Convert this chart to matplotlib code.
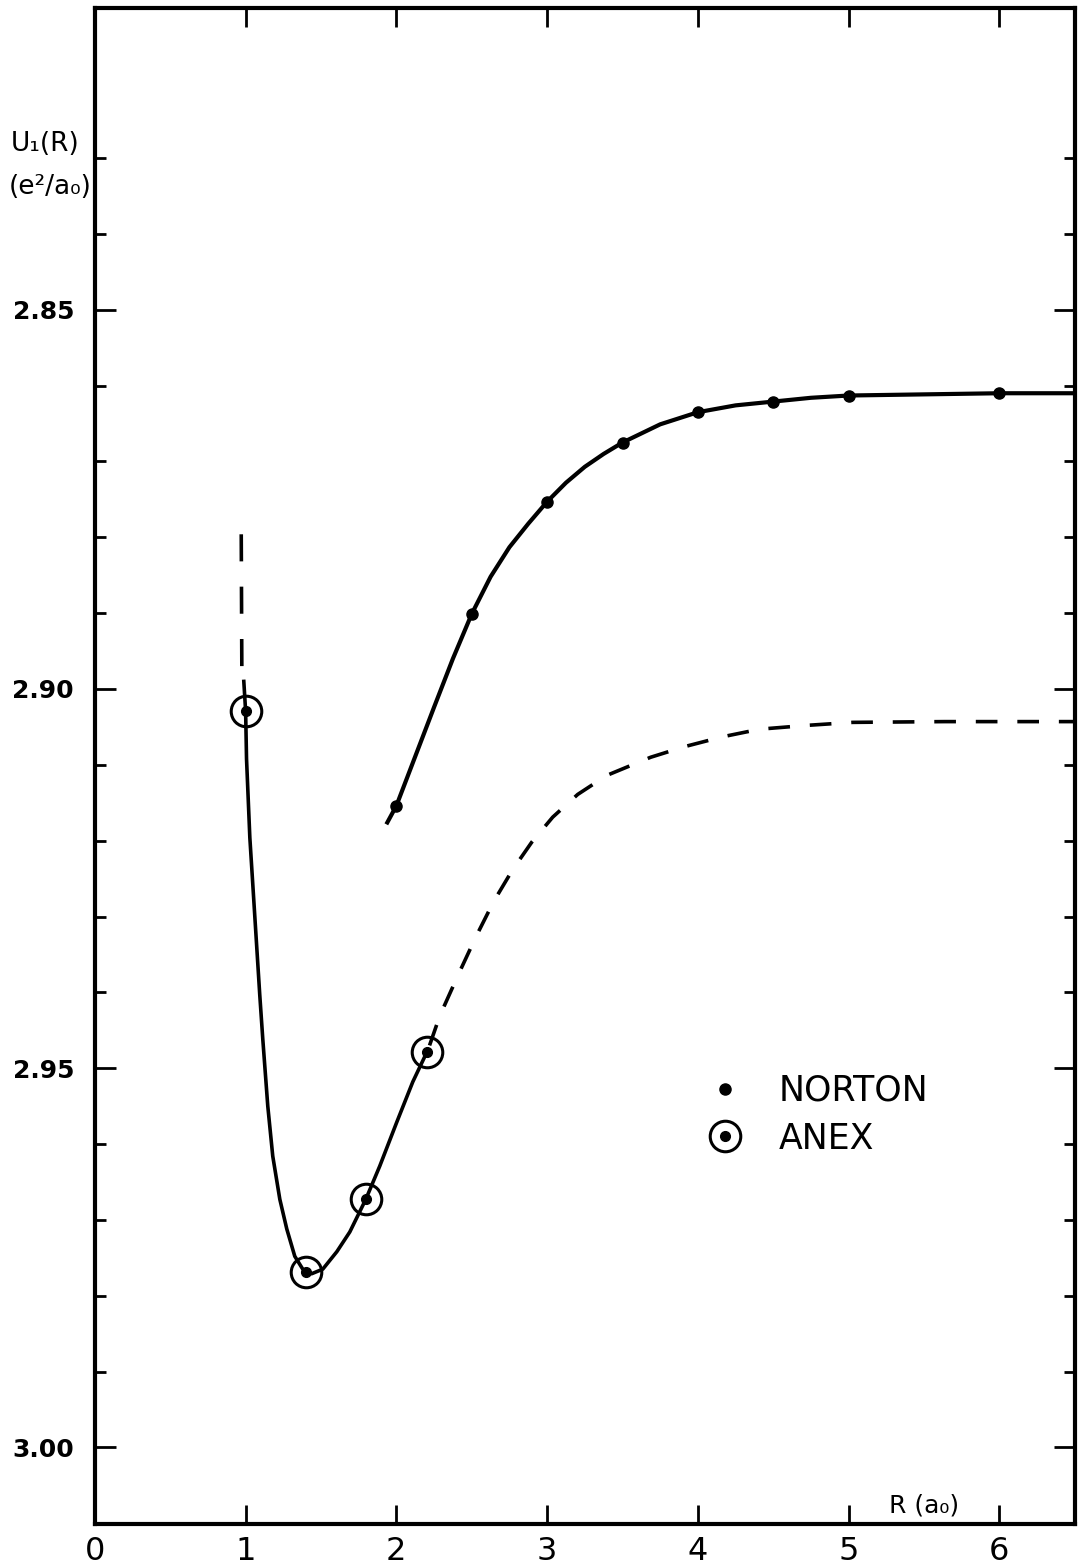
import matplotlib.pyplot as plt
from matplotlib.legend_handler import HandlerTuple
from matplotlib.ticker import FixedLocator, NullFormatter

plt.switch_backend("Agg")

# Puntos NORTON: R (a0) y U1(R) (e^2/a0)
norton_R = [2.0, 2.5, 3.0, 3.5, 4.0, 4.5, 5.0, 6.0]
norton_U = [2.9154, 2.8901, 2.8753, 2.8675, 2.8635, 2.8621, 2.8613, 2.8610]

# Puntos ANEX
anex_R = [1.0, 1.4, 1.8, 2.2]
anex_U = [2.9029, 2.9769, 2.9673, 2.9479]

# Curva continua que pasa por los puntos NORTON
norton_curve_R = [1.94, 2.0, 2.125, 2.25, 2.375, 2.5, 2.625, 2.75, 2.875, 3.0, 3.125,
                  3.25, 3.375, 3.5, 3.75, 4.0, 4.25, 4.5, 4.75, 5.0, 6.0, 6.5]
norton_curve_U = [2.9176, 2.9154, 2.9089, 2.9024, 2.8960, 2.8901, 2.8852, 2.8813,
                  2.8782, 2.8753, 2.8728, 2.8707, 2.8690, 2.8675, 2.8651, 2.8635,
                  2.8626, 2.8621, 2.8616, 2.8613, 2.8610, 2.8610]

# Curva continua que pasa por los puntos ANEX
anex_curve_R = [0.988, 1.0, 1.006, 1.028, 1.061, 1.094, 1.114, 1.147, 1.18, 1.227,
                1.273, 1.326, 1.379, 1.439, 1.512, 1.605, 1.691, 1.797, 1.89, 2.003,
                2.109, 2.202]
anex_curve_U = [2.8990, 2.9029, 2.9092, 2.9196, 2.9300, 2.9404, 2.9462, 2.9550, 2.9616,
                2.9673, 2.9712, 2.9748, 2.9765, 2.9771, 2.9765, 2.9742, 2.9716, 2.9673,
                2.9629, 2.9571, 2.9518, 2.9479]

# Extrapolación a trazos (vertical en R=1 y la rama larga desde R=2.2)
dash_up_R = [0.971, 0.975]
dash_up_U = [2.8796, 2.8978]
dash_R = [2.22, 2.288, 2.41, 2.527, 2.646, 2.772, 2.898, 3.037, 3.203, 3.395, 3.687,
          3.912, 4.164, 4.41, 4.721, 5.027, 5.637, 6.34, 6.5]
dash_U = [2.9470, 2.9431, 2.9377, 2.9327, 2.9280, 2.9238, 2.9202, 2.9169, 2.9139,
          2.9114, 2.9090, 2.9076, 2.9063, 2.9053, 2.9048, 2.9044, 2.9043, 2.9043, 2.9043]

x_ticks = [0, 1, 2, 3, 4, 5, 6]
y_major = [2.85, 2.90, 2.95, 3.00]
y_labels = ["2.85", "2.90", "2.95", "3.00"]
y_minor = [2.83, 2.84, 2.86, 2.87, 2.88, 2.89, 2.91, 2.92, 2.93, 2.94,
           2.96, 2.97, 2.98, 2.99]

fig = plt.figure(figsize=(10.78, 15.68), dpi=100)
ax = fig.add_axes([0.088, 0.0281, 0.909, 0.9668])

lw = 2.6
ax.plot(norton_curve_R, norton_curve_U, color="black", lw=3.0, solid_joinstyle="round")
ax.plot(anex_curve_R, anex_curve_U, color="black", lw=lw, solid_joinstyle="round")
ax.plot(dash_up_R, dash_up_U, color="black", lw=lw, dashes=(7.5, 7))
ax.plot(dash_R, dash_U, color="black", lw=lw, dashes=(6, 5.5))

norton_pts, = ax.plot(norton_R, norton_U, "o", color="black", ms=8, ls="none")
anex_ring, = ax.plot(anex_R, anex_U, "o", mfc="none", mec="black", mew=2.2, ms=22, ls="none")
anex_dot, = ax.plot(anex_R, anex_U, "o", color="black", ms=7, ls="none")

ax.set_xlim(0, 6.5)
ax.set_ylim(3.0101, 2.8102)

ax.set_xticks(x_ticks)
ax.set_xticklabels([str(t) for t in x_ticks], fontsize=23)
ax.set_yticks(y_major)
ax.set_yticklabels(y_labels, fontsize=18, fontweight="bold")
ax.yaxis.set_minor_locator(FixedLocator(y_minor))
ax.yaxis.set_minor_formatter(NullFormatter())
ax.xaxis.set_minor_locator(FixedLocator([]))

ax.tick_params(axis="x", which="major", direction="in", length=14, width=2,
               top=True, bottom=True, pad=9)
ax.tick_params(axis="y", which="major", direction="in", length=15, width=2,
               left=True, right=True, pad=15)
ax.tick_params(axis="y", which="minor", direction="in", length=8, width=2,
               left=True, right=True)
for s in ax.spines.values():
    s.set_linewidth(3)

fig.text(0.042, 0.908, "U\u2081(R)", fontsize=19, ha="center", va="center")
fig.text(0.047, 0.881, "(e\u00b2/a\u2080)", fontsize=19, ha="center", va="center")
ax.text(0.846, 0.004, "R (a\u2080)", transform=ax.transAxes, fontsize=18,
        ha="center", va="bottom")

ax.legend([norton_pts, (anex_ring, anex_dot)], ["NORTON", "ANEX"],
          handler_map={tuple: HandlerTuple(ndivide=1)},
          loc="upper left", bbox_to_anchor=(0.625, 0.297), frameon=False,
          fontsize=25, handlelength=1.0, handletextpad=1.05, labelspacing=0.4,
          borderpad=0, borderaxespad=0)

fig.savefig("out.png", dpi=100, facecolor="white")
